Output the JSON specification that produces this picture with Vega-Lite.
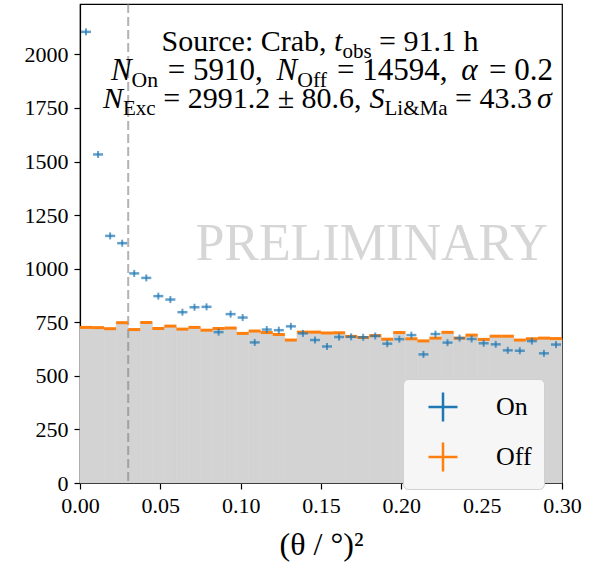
{
  "$schema": "https://vega.github.io/schema/vega-lite/v6.json",
  "width": 482,
  "height": 479,
  "autosize": {"type": "none"},
  "padding": {"left": 80, "top": 4, "right": 33, "bottom": 88},
  "background": "white",
  "config": {
    "font": "Liberation Serif",
    "view": {"stroke": "black", "strokeWidth": 1.2},
    "text": {"font": "Liberation Serif"},
    "axis": {
      "domainColor": "black", "domainWidth": 1.2,
      "tickColor": "black", "tickWidth": 1.2, "tickSize": 6,
      "labelColor": "black", "labelFont": "Liberation Serif", "labelFontSize": 22,
      "titleFont": "Liberation Serif", "titleFontSize": 32, "titleFontWeight": "normal", "titleColor": "black",
      "grid": false, "labelPadding": 6, "labelFlush": false, "zindex": 1
    }
  },
  "data": {"values": [
    {"lo":0,"hi":0.0075,"mid":0.00375,"on":2105,"off":726},
    {"lo":0.0075,"hi":0.015,"mid":0.01125,"on":1533,"off":725},
    {"lo":0.015,"hi":0.0225,"mid":0.01875,"on":1153,"off":720},
    {"lo":0.0225,"hi":0.03,"mid":0.02625,"on":1119,"off":748},
    {"lo":0.03,"hi":0.0375,"mid":0.03375,"on":978,"off":716},
    {"lo":0.0375,"hi":0.045,"mid":0.04125,"on":957,"off":749},
    {"lo":0.045,"hi":0.0525,"mid":0.04875,"on":872,"off":721},
    {"lo":0.0525,"hi":0.06,"mid":0.05625,"on":856,"off":732},
    {"lo":0.06,"hi":0.0675,"mid":0.06375,"on":797,"off":718},
    {"lo":0.0675,"hi":0.075,"mid":0.07125,"on":820,"off":726},
    {"lo":0.075,"hi":0.0825,"mid":0.07875,"on":822,"off":713},
    {"lo":0.0825,"hi":0.09,"mid":0.08625,"on":704,"off":721},
    {"lo":0.09,"hi":0.0975,"mid":0.09375,"on":788,"off":723},
    {"lo":0.0975,"hi":0.105,"mid":0.10125,"on":772,"off":698},
    {"lo":0.105,"hi":0.1125,"mid":0.10875,"on":656,"off":709},
    {"lo":0.1125,"hi":0.12,"mid":0.11625,"on":716,"off":702},
    {"lo":0.12,"hi":0.1275,"mid":0.12375,"on":713,"off":693},
    {"lo":0.1275,"hi":0.135,"mid":0.13125,"on":731,"off":667},
    {"lo":0.135,"hi":0.1425,"mid":0.13875,"on":698,"off":704},
    {"lo":0.1425,"hi":0.15,"mid":0.14625,"on":667,"off":704},
    {"lo":0.15,"hi":0.1575,"mid":0.15375,"on":637,"off":700},
    {"lo":0.1575,"hi":0.165,"mid":0.16125,"on":681,"off":701},
    {"lo":0.165,"hi":0.1725,"mid":0.16875,"on":682,"off":684},
    {"lo":0.1725,"hi":0.18,"mid":0.17625,"on":680,"off":679},
    {"lo":0.18,"hi":0.1875,"mid":0.18375,"on":686,"off":688},
    {"lo":0.1875,"hi":0.195,"mid":0.19125,"on":650,"off":671},
    {"lo":0.195,"hi":0.2025,"mid":0.19875,"on":671,"off":702},
    {"lo":0.2025,"hi":0.21,"mid":0.20625,"on":690,"off":673},
    {"lo":0.21,"hi":0.2175,"mid":0.21375,"on":600,"off":663},
    {"lo":0.2175,"hi":0.225,"mid":0.22125,"on":695,"off":676},
    {"lo":0.225,"hi":0.2325,"mid":0.22875,"on":655,"off":703},
    {"lo":0.2325,"hi":0.24,"mid":0.23625,"on":676,"off":676},
    {"lo":0.24,"hi":0.2475,"mid":0.24375,"on":672,"off":690},
    {"lo":0.2475,"hi":0.255,"mid":0.25125,"on":652,"off":670},
    {"lo":0.255,"hi":0.2625,"mid":0.25875,"on":647,"off":685},
    {"lo":0.2625,"hi":0.27,"mid":0.26625,"on":619,"off":685},
    {"lo":0.27,"hi":0.2775,"mid":0.27375,"on":617,"off":667},
    {"lo":0.2775,"hi":0.285,"mid":0.28125,"on":662,"off":673},
    {"lo":0.285,"hi":0.2925,"mid":0.28875,"on":605,"off":676},
    {"lo":0.2925,"hi":0.3,"mid":0.29625,"on":646,"off":674}
  ]},
  "layer": [
    {
      "mark": {"type": "rect", "color": "#d3d3d3", "stroke": "#d3d3d3", "strokeWidth": 0.6},
      "encoding": {
        "x": {"field": "lo", "type": "quantitative",
              "scale": {"domain": [0, 0.3], "nice": false, "zero": false},
              "axis": {"values": [0, 0.05, 0.1, 0.15, 0.2, 0.25, 0.3], "format": ".2f", "title": "(θ / °)²", "titlePadding": 13,
                       "labelFont": "Liberation Serif", "titleFont": "Liberation Serif", "labelFlush": false}},
        "x2": {"field": "hi"},
        "y": {"field": "off", "type": "quantitative",
              "scale": {"domain": [0, 2235], "nice": false},
              "axis": {"values": [0, 250, 500, 750, 1000, 1250, 1500, 1750, 2000], "format": "d", "title": null,
                       "labelFont": "Liberation Serif", "labelFlush": false}},
        "y2": {"datum": 0}
      }
    },
    {
      "data": {"values": [{"cut": 0.03}]},
      "mark": {"type": "rule", "color": "gray", "opacity": 0.6, "strokeDash": [9, 4], "strokeWidth": 2},
      "encoding": {"x": {"field": "cut", "type": "quantitative"}}
    },
    {
      "data": {"values": [{"t": "PRELIMINARY"}]},
      "mark": {"type": "text", "align": "center", "baseline": "alphabetic", "font": "Liberation Serif", "fontSize": 52, "color": "#d6d6d6"},
      "encoding": {"x": {"datum": 0.1815}, "y": {"datum": 1041}, "text": {"field": "t"}}
    },
    {
      "mark": {"type": "rule", "strokeWidth": 3},
      "encoding": {
        "x": {"field": "lo", "type": "quantitative"},
        "x2": {"field": "hi"},
        "y": {"field": "off", "type": "quantitative"},
        "color": {"datum": "Off", "type": "nominal",
          "scale": {"domain": ["On", "Off"], "range": ["#1f77b4", "#ff7f0e"]},
          "legend": {
            "orient": "none", "legendX": 323, "legendY": 375, "title": null,
            "symbolType": "M-1,0H1M0,-1V1", "symbolSize": 841, "symbolStrokeWidth": 2.5,
            "symbolFillColor": "transparent", "symbolOffset": 12,
            "labelFont": "Liberation Serif", "labelFontSize": 26, "labelColor": "black", "labelOffset": 37,
            "padding": 12, "rowPadding": 10, "labelLimit": 200,
            "fillColor": "#f6f6f6", "strokeColor": "#d0d0d0", "cornerRadius": 5,
            "encode": {"symbols": {"update": {"stroke": {"scale": "color", "field": "value"}, "fill": {"value": "transparent"}, "strokeWidth": {"value": 2.5}}}}
          }}
      }
    },
    {
      "mark": {"type": "tick", "orient": "horizontal", "size": 10, "thickness": 2.5},
      "encoding": {
        "x": {"field": "mid", "type": "quantitative"},
        "y": {"field": "on", "type": "quantitative"},
        "color": {"datum": "On", "type": "nominal"}
      }
    },
    {
      "mark": {"type": "tick", "orient": "vertical", "size": 7, "thickness": 2},
      "encoding": {
        "x": {"field": "mid", "type": "quantitative"},
        "y": {"field": "on", "type": "quantitative"},
        "color": {"datum": "On", "type": "nominal"}
      }
    },
    {"data": {"values": [{"t": "Source: Crab,"}]}, "mark": {"type": "text", "font": "Liberation Serif", "align": "left", "baseline": "alphabetic", "fontSize": 30, "dx": -163.4, "color": "black"}, "encoding": {"x": {"datum": 0.1525}, "y": {"datum": 2015}, "text": {"field": "t"}}},
    {"data": {"values": [{"t": "t"}]}, "mark": {"type": "text", "font": "Liberation Serif", "align": "left", "baseline": "alphabetic", "fontSize": 30, "fontStyle": "italic", "dx": 9.1, "color": "black"}, "encoding": {"x": {"datum": 0.1525}, "y": {"datum": 2015}, "text": {"field": "t"}}},
    {"data": {"values": [{"t": "obs"}]}, "mark": {"type": "text", "font": "Liberation Serif", "align": "left", "baseline": "alphabetic", "fontSize": 21, "dx": 17.4, "dy": 6.5, "color": "black"}, "encoding": {"x": {"datum": 0.1525}, "y": {"datum": 2015}, "text": {"field": "t"}}},
    {"data": {"values": [{"t": "= 91.1 h"}]}, "mark": {"type": "text", "font": "Liberation Serif", "align": "left", "baseline": "alphabetic", "fontSize": 30, "dx": 54.1, "color": "black"}, "encoding": {"x": {"datum": 0.1525}, "y": {"datum": 2015}, "text": {"field": "t"}}},

    {"data": {"values": [{"t": "N"}]}, "mark": {"type": "text", "font": "Liberation Serif", "align": "left", "baseline": "alphabetic", "fontSize": 31, "fontStyle": "italic", "dx": -214.1, "color": "black"}, "encoding": {"x": {"datum": 0.1525}, "y": {"datum": 1880}, "text": {"field": "t"}}},
    {"data": {"values": [{"t": "On"}]}, "mark": {"type": "text", "font": "Liberation Serif", "align": "left", "baseline": "alphabetic", "fontSize": 21.7, "dx": -193.4, "dy": 6.5, "color": "black"}, "encoding": {"x": {"datum": 0.1525}, "y": {"datum": 1880}, "text": {"field": "t"}}},
    {"data": {"values": [{"t": "= 5910,"}]}, "mark": {"type": "text", "font": "Liberation Serif", "align": "left", "baseline": "alphabetic", "fontSize": 31, "dx": -157.15, "color": "black"}, "encoding": {"x": {"datum": 0.1525}, "y": {"datum": 1880}, "text": {"field": "t"}}},
    {"data": {"values": [{"t": "N"}]}, "mark": {"type": "text", "font": "Liberation Serif", "align": "left", "baseline": "alphabetic", "fontSize": 31, "fontStyle": "italic", "dx": -48.45, "color": "black"}, "encoding": {"x": {"datum": 0.1525}, "y": {"datum": 1880}, "text": {"field": "t"}}},
    {"data": {"values": [{"t": "Off"}]}, "mark": {"type": "text", "font": "Liberation Serif", "align": "left", "baseline": "alphabetic", "fontSize": 21.7, "dx": -27.75, "dy": 6.5, "color": "black"}, "encoding": {"x": {"datum": 0.1525}, "y": {"datum": 1880}, "text": {"field": "t"}}},
    {"data": {"values": [{"t": "= 14594,"}]}, "mark": {"type": "text", "font": "Liberation Serif", "align": "left", "baseline": "alphabetic", "fontSize": 31, "dx": 12.1, "color": "black"}, "encoding": {"x": {"datum": 0.1525}, "y": {"datum": 1880}, "text": {"field": "t"}}},
    {"data": {"values": [{"t": "α"}]}, "mark": {"type": "text", "font": "Liberation Serif", "align": "left", "baseline": "alphabetic", "fontSize": 31, "fontStyle": "italic", "dx": 136.3, "color": "black"}, "encoding": {"x": {"datum": 0.1525}, "y": {"datum": 1880}, "text": {"field": "t"}}},
    {"data": {"values": [{"t": "= 0.2"}]}, "mark": {"type": "text", "font": "Liberation Serif", "align": "left", "baseline": "alphabetic", "fontSize": 31, "dx": 164.1, "color": "black"}, "encoding": {"x": {"datum": 0.1525}, "y": {"datum": 1880}, "text": {"field": "t"}}},

    {"data": {"values": [{"t": "N"}]}, "mark": {"type": "text", "font": "Liberation Serif", "align": "left", "baseline": "alphabetic", "fontSize": 30, "fontStyle": "italic", "dx": -222, "color": "black"}, "encoding": {"x": {"datum": 0.1525}, "y": {"datum": 1749}, "text": {"field": "t"}}},
    {"data": {"values": [{"t": "Exc"}]}, "mark": {"type": "text", "font": "Liberation Serif", "align": "left", "baseline": "alphabetic", "fontSize": 21, "dx": -202, "dy": 6.5, "color": "black"}, "encoding": {"x": {"datum": 0.1525}, "y": {"datum": 1749}, "text": {"field": "t"}}},
    {"data": {"values": [{"t": "= 2991.2 ± 80.6,"}]}, "mark": {"type": "text", "font": "Liberation Serif", "align": "left", "baseline": "alphabetic", "fontSize": 30, "dx": -161.8, "color": "black"}, "encoding": {"x": {"datum": 0.1525}, "y": {"datum": 1749}, "text": {"field": "t"}}},
    {"data": {"values": [{"t": "S"}]}, "mark": {"type": "text", "font": "Liberation Serif", "align": "left", "baseline": "alphabetic", "fontSize": 30, "fontStyle": "italic", "dx": 44.5, "color": "black"}, "encoding": {"x": {"datum": 0.1525}, "y": {"datum": 1749}, "text": {"field": "t"}}},
    {"data": {"values": [{"t": "Li&Ma"}]}, "mark": {"type": "text", "font": "Liberation Serif", "align": "left", "baseline": "alphabetic", "fontSize": 21, "dx": 59.5, "dy": 6.5, "color": "black"}, "encoding": {"x": {"datum": 0.1525}, "y": {"datum": 1749}, "text": {"field": "t"}}},
    {"data": {"values": [{"t": "= 43.3"}]}, "mark": {"type": "text", "font": "Liberation Serif", "align": "left", "baseline": "alphabetic", "fontSize": 30, "dx": 130, "color": "black"}, "encoding": {"x": {"datum": 0.1525}, "y": {"datum": 1749}, "text": {"field": "t"}}},
    {"data": {"values": [{"t": "σ"}]}, "mark": {"type": "text", "font": "Liberation Serif", "align": "left", "baseline": "alphabetic", "fontSize": 30, "fontStyle": "italic", "dx": 211.9, "color": "black"}, "encoding": {"x": {"datum": 0.1525}, "y": {"datum": 1749}, "text": {"field": "t"}}}
  ]
}
